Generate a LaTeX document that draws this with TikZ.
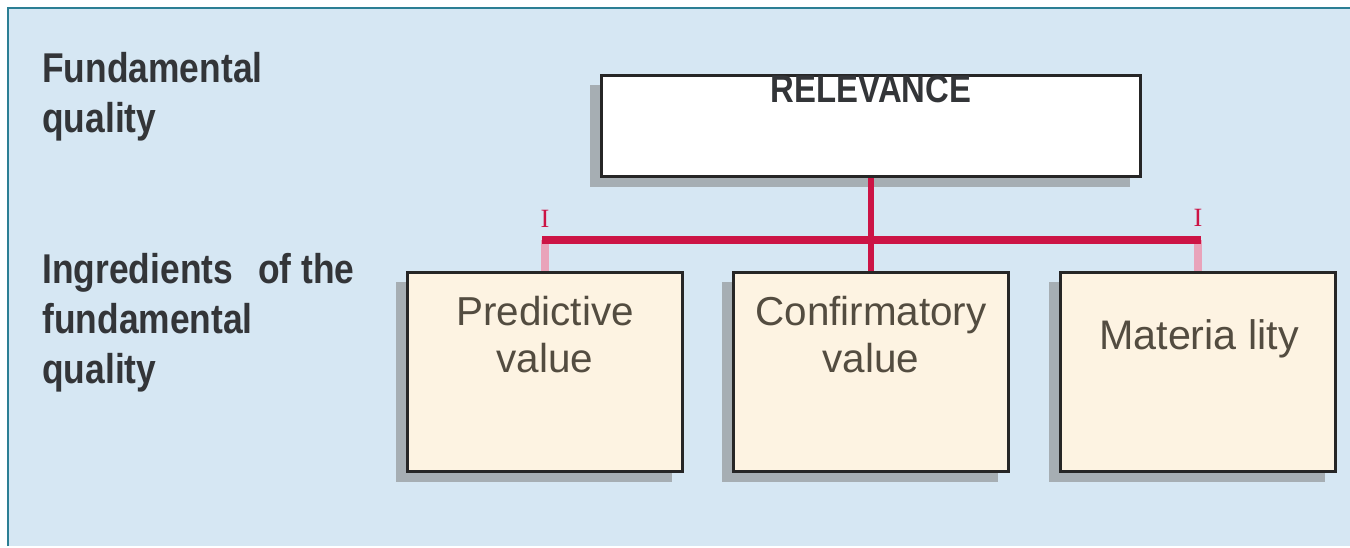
\documentclass[tikz,border=0pt]{standalone}
\usepackage{fontspec}
\setmainfont{Liberation Sans}
\newfontfamily\condbold[FakeStretch=0.85]{Liberation Sans Bold}
\newfontfamily\markfont{Liberation Serif}
\usetikzlibrary{positioning,calc,shadows}
\definecolor{panelblue}{HTML}{D6E7F3}
\definecolor{frameteal}{HTML}{2C7F94}
\definecolor{boxcream}{HTML}{FDF3E2}
\definecolor{linkred}{HTML}{CC1445}
\definecolor{linkpink}{HTML}{E9A3BA}
\definecolor{headgray}{HTML}{333538}
\definecolor{bodybrown}{HTML}{534C40}
\tikzset{
	boxshadow/.style={drop shadow={shadow xshift=-0.22cm, shadow yshift=-0.2cm, fill=black!50, opacity=0.55}},
	relbox/.style={draw=black!85, line width=1.7pt, fill=white, minimum width=10.8cm, minimum height=2.04cm, boxshadow},
	partbox/.style={draw=black!85, line width=1.7pt, fill=boxcream, minimum width=5.52cm, minimum height=4cm, boxshadow},
	sidetext/.style={align=left, text=headgray, font=\condbold\fontsize{23.7}{28.4}\selectfont},
	boxtext/.style={align=center, text=bodybrown, font=\fontsize{23}{26.6}\selectfont},
	redlink/.style={draw=linkred, line width=3pt},
	pinklink/.style={draw=linkpink, line width=4.5pt},
}

\begin{document}
\begin{tikzpicture}[x=0.02cm, y=-0.02cm]
	\tikzstyle{every node}=[inner sep=0pt]
	\useasboundingbox (0,0) rectangle (1350,548);
	% panel
	\fill[panelblue] (8,8) rectangle (1350,546);
	\draw[frameteal, line width=1.7pt] (8,546) -- (8,8) -- (1350,8);

	% left labels
	\node[sidetext, anchor=north west] (fundq) at (42,52) {Fundamental\\quality};
	\node[sidetext, anchor=north west] (ingr) at (42,253) {Ingredients\hspace{0.5cm}of the\\fundamental\\quality};

	% boxes
	\node[relbox] (rel) at (871,126) {};
	\node[partbox] (pred) at (545,372) {};
	\node[partbox] (conf) at (871,372) {};
	\node[partbox] (mat) at (1198,372) {};

	\node[anchor=north, text=headgray, font=\condbold\fontsize{22}{26}\selectfont] (reltxt) at (871,75) {RELEVANCE};
	\node[boxtext, anchor=north] (predtxt) at (545,296) {Predictive\\value};
	\node[boxtext, anchor=north] (conftxt) at (871,296) {Confirmatory\\value};
	\node[boxtext, anchor=north, font=\fontsize{23.5}{27}\selectfont] (mattxt) at (1199,319) {Materia lity};

	% connectors
	\coordinate (barl) at (pred.north |- 0,240);
	\coordinate (barr) at (mat.north |- 0,240);
	\draw [pinklink] (barl) to (pred.north);
	\draw [pinklink] (barr) to (mat.north);
	\draw [redlink] (rel.south) to (conf.north);
	\draw [redlink, line width=4pt] ($(barl)+(-3,0)$) to ($(barr)+(3,0)$);

	\node[text=linkred, font=\markfont\fontsize{15}{16}\selectfont] (markl) at (545,219) {I};
	\node[text=linkred, font=\markfont\fontsize{15}{16}\selectfont] (markr) at (1198,218) {I};
\end{tikzpicture}
\end{document}
